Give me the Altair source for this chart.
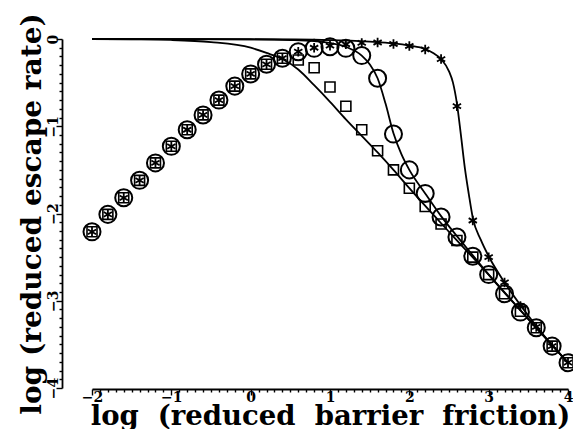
import altair as alt
import pandas as pd

# ---- data ----
x_markers = [-2.0, -1.8, -1.6, -1.4, -1.2, -1.0, -0.8, -0.6, -0.4, -0.2, 0.0, 0.2, 0.4,
             0.6, 0.8, 1.0, 1.2, 1.4, 1.6, 1.8, 2.0, 2.2, 2.4, 2.6, 2.8, 3.0, 3.2, 3.4,
             3.6, 3.8, 4.0]

circle_y = [-2.21, -2.01, -1.82, -1.62, -1.42, -1.23, -1.04, -0.87, -0.70, -0.54, -0.40, -0.29, -0.22,
            -0.145, -0.107, -0.088, -0.107, -0.19, -0.45, -1.09, -1.50, -1.77, -2.04, -2.27, -2.49,
            -2.70, -2.92, -3.13, -3.31, -3.52, -3.71]

square_y = [-2.21, -2.01, -1.82, -1.62, -1.42, -1.23, -1.04, -0.87, -0.70, -0.54, -0.40, -0.29, -0.22,
            -0.24, -0.33, -0.55, -0.77, -1.04, -1.28, -1.50, -1.71, -1.92, -2.12, -2.31, -2.50,
            -2.70, -2.92, -3.12, -3.31, -3.52, -3.71]

star_y = [-2.21, -2.01, -1.82, -1.62, -1.42, -1.23, -1.04, -0.87, -0.70, -0.54, -0.40, -0.29, -0.22,
          -0.145, -0.10, -0.077, -0.06, -0.045, -0.04, -0.057, -0.08, -0.12, -0.23, -0.77, -2.08,
          -2.50, -2.79, -3.06, -3.30, -3.52, -3.71]

line_a_x = [-2.0, -1.5, -1.0, -0.5, 0.0, 0.2, 0.4, 0.6, 0.8, 1.0, 1.2, 1.4, 1.6, 1.8, 2.0, 2.5, 3.0, 3.5, 4.0]
line_a_y = [0.0, -0.004, -0.011, -0.035, -0.10, -0.16, -0.23, -0.35, -0.53, -0.72, -0.92, -1.11, -1.30,
            -1.50, -1.71, -2.21, -2.70, -3.21, -3.71]

line_b_x = [-2.0, -1.0, 0.0, 0.5, 0.8, 1.0, 1.2, 1.4, 1.5, 1.6, 1.7, 1.8, 1.9, 2.0, 2.2, 2.4, 2.6, 2.8,
            3.0, 3.5, 4.0]
line_b_y = [0.0, -0.001, -0.004, -0.012, -0.025, -0.045, -0.09, -0.19, -0.29, -0.45, -0.74, -1.08, -1.32,
            -1.50, -1.77, -2.03, -2.26, -2.48, -2.70, -3.21, -3.71]

line_c_x = [-2.0, 0.0, 1.0, 1.5, 1.8, 2.0, 2.2, 2.3, 2.4, 2.5, 2.55, 2.6, 2.65, 2.7, 2.75, 2.8, 2.9, 3.0,
            3.2, 3.4, 3.6, 3.8, 4.0]
line_c_y = [0.0, -0.003, -0.012, -0.03, -0.05, -0.075, -0.115, -0.16, -0.23, -0.37, -0.50, -0.74, -1.10,
            -1.48, -1.78, -2.05, -2.30, -2.49, -2.79, -3.05, -3.29, -3.51, -3.71]

x_ticks = [round(-2 + i * 0.1, 1) for i in range(61)]
y_ticks = [round(-4 + i * 0.1, 1) for i in range(41)]

x_title = "log\u00a0 (reduced\u00a0 barrier\u00a0 friction)"
y_title = "log (reduced escape rate)"

# ---- tables ----
lines = pd.concat([
    pd.DataFrame({"x": line_a_x, "y": line_a_y, "series": "A"}),
    pd.DataFrame({"x": line_b_x, "y": line_b_y, "series": "B"}),
    pd.DataFrame({"x": line_c_x, "y": line_c_y, "series": "C"}),
])
circles = pd.DataFrame({"x": x_markers, "y": circle_y})
squares = pd.DataFrame({"x": x_markers, "y": square_y})
stars = pd.DataFrame({"x": x_markers, "y": star_y})

FONT = "DejaVu Serif"
major = "abs(datum.value - round(datum.value)) < 0.001"
label_expr = f"{major} ? format(round(datum.value), 'd') : ''"

x_axis = alt.Axis(
    values=x_ticks, labelExpr=label_expr, labelOverlap=False, labelFlush=False,
    tickSize={"condition": {"test": major, "value": 6}, "value": 3},
    tickWidth=1.4, domainWidth=1.8, domainColor="black", tickColor="black",
    labelFont=FONT, labelFontWeight="bold", labelFontSize=14, labelColor="black", labelPadding=-5,
    title=x_title, titleFont=FONT, titleFontWeight="bold", titleFontSize=27.5, titleColor="black",
    titleBaseline="alphabetic", titleY=35, offset=1, grid=False,
)
y_axis = alt.Axis(
    values=y_ticks, labelExpr=label_expr, labelOverlap=False, labelFlush=False,
    tickSize={"condition": {"test": major, "value": 6}, "value": 3},
    tickWidth=1.4, domainWidth=1.8, domainColor="black", tickColor="black",
    labelFont=FONT, labelFontWeight="bold", labelFontSize=14, labelColor="black", labelPadding=-4,
    labelAngle=270,
    title=y_title, titleFont=FONT, titleFontWeight="bold", titleFontSize=28, titleColor="black",
    titleBaseline="alphabetic", titleX=-22, offset=30, grid=False,
)

X = alt.X("x:Q", scale=alt.Scale(domain=[-2, 4], nice=False, zero=False), axis=x_axis)
Y = alt.Y("y:Q", scale=alt.Scale(domain=[-4, 0], nice=False, zero=False), axis=y_axis)

line_layer = alt.Chart(lines).mark_line(
    color="black", strokeWidth=1.8, interpolate="monotone"
).encode(x=X, y=Y, detail="series:N")

circle_layer = alt.Chart(circles).mark_point(
    shape="circle", filled=False, size=290, strokeWidth=2, color="black", opacity=1
).encode(x=X, y=Y)

square_layer = alt.Chart(squares).mark_point(
    shape="square", filled=False, size=100, strokeWidth=1.6, color="black", opacity=1
).encode(x=X, y=Y)

star_path = "M0,-1L0,1M-0.87,-0.5L0.87,0.5M-0.87,0.5L0.87,-0.5"
star_layer = alt.Chart(stars).mark_point(
    shape=star_path, filled=False, size=90, strokeWidth=1.8, color="black", opacity=1
).encode(x=X, y=Y)

chart = alt.layer(line_layer, circle_layer, square_layer, star_layer).properties(
    width=476, height=349,
    autosize=alt.AutoSizeParams(type="none"),
    padding={"left": 84, "top": 31, "right": 5, "bottom": 41},
    background="white",
).configure_view(stroke=None)

chart.save("out.html", embed_options={"renderer": "svg", "actions": False})
